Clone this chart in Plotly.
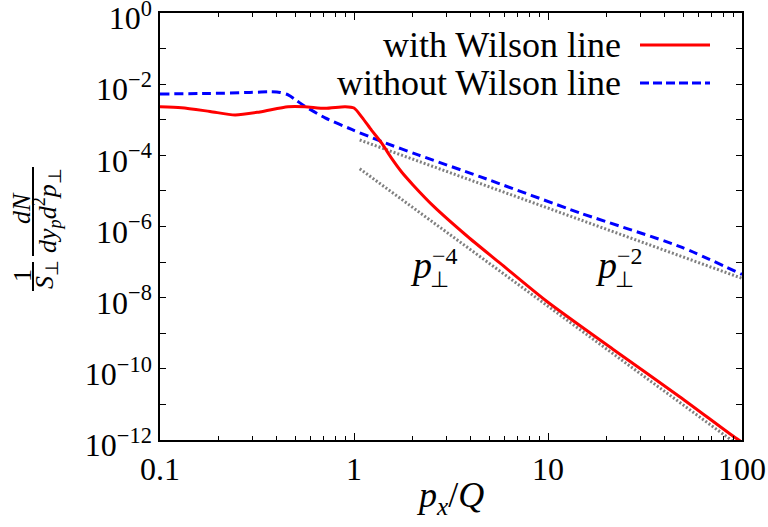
import plotly.graph_objects as go

# ---- data ----
x_with = [0.1, 0.129, 0.181, 0.244, 0.327, 0.457, 0.558, 0.710, 0.90, 1.0, 1.10, 1.23, 1.39,
          1.56, 1.76, 2.02, 2.56, 3.81, 5.66, 9.84, 21.6, 47.9, 92.0, 100]
y_with = [2.33e-3, 2.19e-3, 1.71e-3, 1.36e-3, 1.66e-3, 2.33e-3, 2.33e-3, 2.10e-3, 2.33e-3,
          2.14e-3, 1.17e-3, 5.13e-4, 2.19e-4, 8.3e-5, 3.39e-5, 1.45e-5, 3.80e-6, 5.5e-7,
          9.3e-8, 7.9e-9, 3.55e-10, 1.62e-11, 1.17e-12, 8.7e-13]

x_without = [0.1, 0.181, 0.291, 0.369, 0.416, 0.46, 0.508, 0.558, 0.710, 0.973, 1.39, 2.14, 4.46,
             14.6, 47.9, 100]
y_without = [5.31e-3, 5.48e-3, 5.85e-3, 6.12e-3, 5.85e-3, 4.95e-3, 3.40e-3, 2.40e-3, 1.13e-3, 5.35e-4,
             2.43e-4, 1.03e-4, 2.52e-5, 2.41e-6, 2.72e-7, 4.51e-8]

x_pow2 = [1.07, 100]
y_pow2 = [2.7e-4, 3.5e-8]
x_pow4 = [1.07, 100]
y_pow4 = [4.2e-5, 6.0e-13]

x_tickvals = [0.1, 1, 10, 100]
x_ticktext = ["0.1", "1", "10", "100"]
x_minor = [m * d for d in (0.1, 1, 10) for m in range(2, 10)]
y_exponents = list(range(0, 13))
y_tickvals = [10.0 ** (-k) for k in y_exponents]
y_ticktext = [("10<sup>%s</sup>" % ("−%d" % k if k else "0")) if k % 2 == 0 else "" for k in y_exponents]

legend_labels = ["with Wilson line", "without Wilson line"]

# ---- layout geometry (pixels) ----
W, H = 768, 527
L, R, T, B = 160, 742, 13, 440
PW, PH = R - L, B - T


def px(xp):
    return (xp - L) / PW


def py(yp):
    return (B - yp) / PH


FONT = "Liberation Serif"
RED = "#ff0000"
BLUE = "#0000ff"
GRAY = "#808080"

fig = go.Figure()
fig.add_trace(go.Scatter(x=x_pow2, y=y_pow2, mode="lines",
                         line=dict(color=GRAY, width=3, dash="2px,2px"), hoverinfo="skip"))
fig.add_trace(go.Scatter(x=x_pow4, y=y_pow4, mode="lines",
                         line=dict(color=GRAY, width=3, dash="2px,2px"), hoverinfo="skip"))
fig.add_trace(go.Scatter(x=x_without, y=y_without, mode="lines", name=legend_labels[1],
                         line=dict(color=BLUE, width=3, dash="9px,5px", shape="spline", smoothing=0.7)))
fig.add_trace(go.Scatter(x=x_with, y=y_with, mode="lines", name=legend_labels[0],
                         line=dict(color=RED, width=3, shape="spline", smoothing=0.7)))

axis_common = dict(showgrid=False, zeroline=False, showline=True, linecolor="black", linewidth=1.5,
                   mirror="allticks", ticks="inside", tickcolor="black", tickwidth=1, automargin=False,
                   ticklabeloverflow="allow",
                   tickfont=dict(family=FONT, size=32, color="black"))

fig.update_xaxes(type="log", range=[-1, 2], tickvals=x_tickvals, ticktext=x_ticktext, ticklen=7,
                 minor=dict(ticks="inside", ticklen=4, tickvals=x_minor, tickcolor="black", showgrid=False),
                 **axis_common)
fig.update_yaxes(type="log", range=[-12, 0], tickvals=y_tickvals, ticktext=y_ticktext, ticklen=6,
                 ticklabelshift=5, **axis_common)

ann = []
shapes = []
# legend (text left of sample, as in the reference)
for i, (lab, col, dash) in enumerate(zip(legend_labels, [RED, BLUE], ["solid", "9px,4px"])):
    yy = [45, 83][i]
    ann.append(dict(x=px(623), y=py(yy), xref="paper", yref="paper", text=lab, showarrow=False,
                    xanchor="right", yanchor="middle", font=dict(family=FONT, size=36, color="black")))
    shapes.append(dict(type="line", xref="paper", yref="paper", x0=px(640), x1=px(710), y0=py(yy), y1=py(yy),
                       line=dict(color=col, width=3, dash=dash)))

# power-law labels
for xp, sup in [(421, "−4"), (606, "−2")]:
    ann.append(dict(x=px(xp), y=py(265), xref="paper", yref="paper", text="<i>p</i>", showarrow=False,
                    xanchor="center", yanchor="middle", font=dict(family=FONT, size=38, color="black")))
    ann.append(dict(x=px(xp + 18), y=py(279), xref="paper", yref="paper", text="⊥", showarrow=False,
                    xanchor="center", yanchor="middle", font=dict(family=FONT, size=22, color="black")))
    ann.append(dict(x=px(xp + 9), y=py(256), xref="paper", yref="paper", text=sup, showarrow=False,
                    xanchor="left", yanchor="middle", font=dict(family=FONT, size=24, color="black")))

# x-axis title
ann.append(dict(x=px(450), y=py(498), xref="paper", yref="paper", text="<i>p<sub>x</sub></i>/<i>Q</i>",
                showarrow=False, xanchor="center", yanchor="middle", font=dict(family=FONT, size=36, color="black")))

# y-axis title as a rotated product of fractions
yt_font = dict(family=FONT, size=26, color="black")
ann.append(dict(x=px(22), y=py(208), xref="paper", yref="paper", text="<i>dN</i>", textangle=-90,
                showarrow=False, xanchor="center", yanchor="middle", font=yt_font))
ann.append(dict(x=px(47), y=py(211), xref="paper", yref="paper",
                text="<i>dy<sub>p</sub>d</i><sup>2</sup><i>p</i><sub>⊥</sub>", textangle=-90,
                showarrow=False, xanchor="center", yanchor="middle", font=yt_font))
ann.append(dict(x=px(22), y=py(276), xref="paper", yref="paper", text="1", textangle=-90,
                showarrow=False, xanchor="center", yanchor="middle", font=yt_font))
ann.append(dict(x=px(46), y=py(275), xref="paper", yref="paper", text="<i>S</i><sub>⊥</sub>", textangle=-90,
                showarrow=False, xanchor="center", yanchor="middle", font=yt_font))
shapes.append(dict(type="line", xref="paper", yref="paper", x0=px(33), x1=px(33), y0=py(167), y1=py(256),
                   line=dict(color="black", width=2)))
shapes.append(dict(type="line", xref="paper", yref="paper", x0=px(33), x1=px(33), y0=py(262), y1=py(291),
                   line=dict(color="black", width=2)))

fig.update_layout(width=W, height=H, margin=dict(l=L, r=W - R, t=T, b=H - B),
                  paper_bgcolor="white", plot_bgcolor="white", showlegend=False,
                  annotations=ann, shapes=shapes, font=dict(family=FONT, color="black"))

fig.write_html("out.html", config={"displayModeBar": False},
               post_script="document.body.style.margin='0';document.body.style.overflow='hidden';")
